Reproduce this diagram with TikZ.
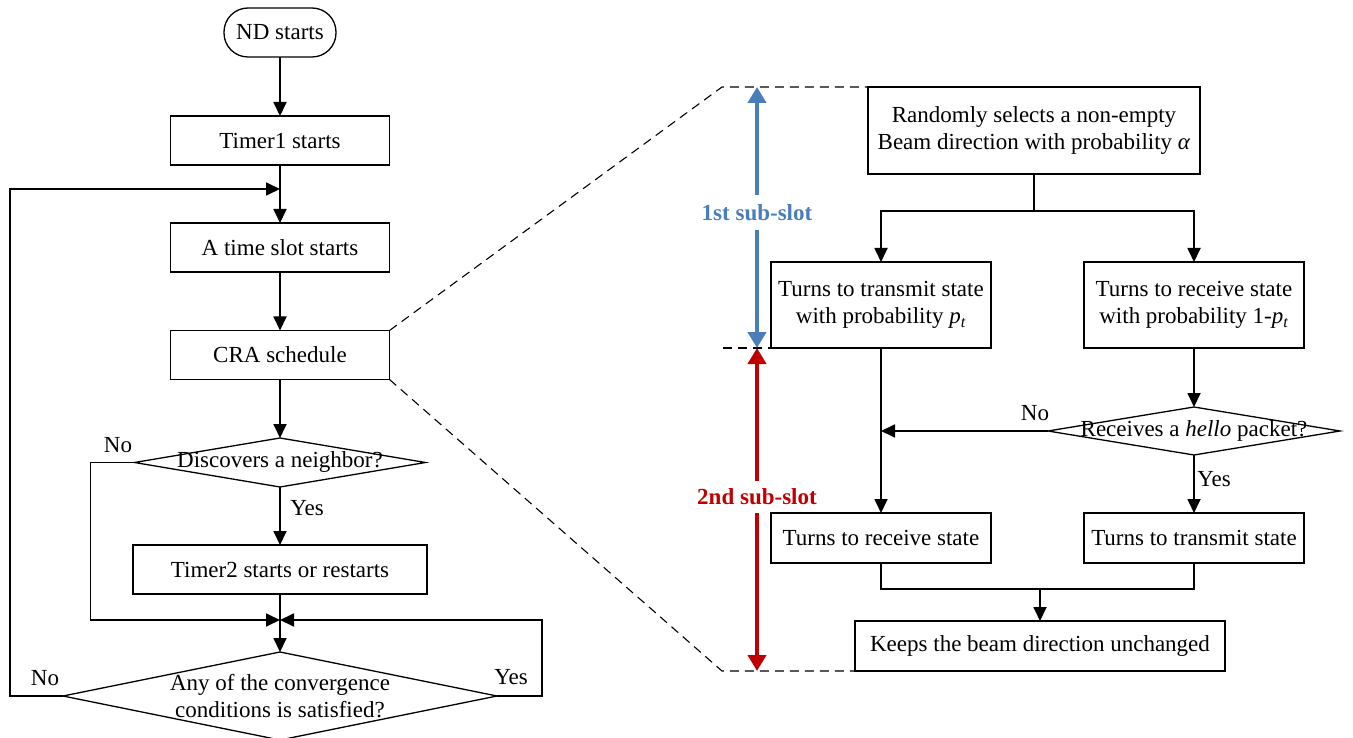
\documentclass[tikz,border=0pt]{standalone}
\usepackage{fontspec}
\setmainfont{Liberation Serif}
\usepackage{tikz}
\usetikzlibrary{shapes.geometric, arrows.meta, positioning}
\definecolor{slotblue}{RGB}{74,126,187}
\definecolor{slotred}{RGB}{192,0,0}
\tikzstyle{process} = [rectangle, draw, line width=1.3pt, inner sep=2pt, outer sep=0pt, minimum width=219pt, minimum height=49pt, align=center]
\tikzstyle{startstop} = [rectangle, rounded corners=24pt, draw, line width=1.3pt, outer sep=0pt, minimum width=112pt, minimum height=49pt]
\tikzstyle{decision} = [diamond, draw, line width=1.3pt, inner sep=0pt, outer sep=0pt]
\tikzstyle{arrow} = [line width=1.8pt, -{Triangle[length=14pt,width=13pt]}]
\tikzstyle{line} = [line width=1.8pt, -]
\tikzstyle{zoomline} = [line width=1.1pt, dash pattern=on 9pt off 6pt]
\tikzstyle{slotarrow} = [line width=4pt, -{Triangle[length=16pt,width=18pt]}]
\tikzstyle{slotlabel} = [font=\fontsize{23pt}{27pt}\selectfont\bfseries, inner xsep=0pt]

\begin{document}
\begin{tikzpicture}[x=1pt, y=-1pt, font=\fontsize{23pt}{27.5pt}\selectfont]
     \useasboundingbox (0,0) rectangle (1353,738);
     \node (nd) at (280, 32.5) [startstop] {ND starts};
     \node (timer1) at (280, 140.5) [process] {Timer1 starts};
     \node (slot) at (280, 247.5) [process] {A time slot starts};
     \node (cra) at (280, 355) [process] {CRA schedule};
     \node (disc) at (280, 462.5) [decision, minimum width=291pt, minimum height=49pt, label=center:{Discovers a neighbor?}] {};
     \node (timer2) at (280, 569.5) [process, minimum width=294pt] {Timer2 starts or restarts};
     \node (conv) at (280, 696) [decision, minimum width=434pt, minimum height=88pt,
           label={[align=center]center:Any of the convergence\\conditions is satisfied?}] {};
     \coordinate (loop) at (280, 189);
     \coordinate (join) at (280, 620);
     \draw[arrow] (nd) -- (timer1);
     \draw[arrow] (timer1) -- (slot);
     \draw[arrow] (slot) -- (cra);
     \draw[arrow] (cra) -- (disc);
     \draw[arrow] (disc) -- (timer2);
     \draw[arrow] (timer2) -- (conv);
     \draw[arrow] (disc.west) -- ++(-44, 0) |- (join);
     \draw[arrow] (conv.east) -- ++(45, 0) |- (join);
     \draw[arrow] (conv.west) -- ++(-53, 0) |- (loop);
     \node (no1) at (118, 445) {No};
     \node (yes1) at (307, 508) {Yes};
     \node (no2) at (45, 678) {No};
     \node (yes2) at (511, 677) {Yes};
     % zoomed sub-slots
     \node (select) at (1034, 130.5) [process, minimum width=332pt, minimum height=87pt]
           {Randomly selects a non-empty\\Beam direction with probability \textit{α}};
     \node (txp) at (881, 305) [process, minimum width=220pt, minimum height=86pt]
           {Turns to transmit state\\with probability \textit{p}\textsubscript{\textit{t}}};
     \node (rxp) at (1194, 305) [process, minimum width=220pt, minimum height=86pt]
           {Turns to receive state\\with probability 1-\textit{p}\textsubscript{\textit{t}}};
     \node (hello) at (1194, 431) [decision, minimum width=292pt, minimum height=48pt, label=center:{Receives a \textit{hello} packet?}] {};
     \node (rxs) at (881, 538) [process, minimum width=220pt, minimum height=50pt] {Turns to receive state};
     \node (txs) at (1194, 538) [process, minimum width=220pt, minimum height=50pt] {Turns to transmit state};
     \node (keep) at (1040, 646) [process, minimum width=370pt, minimum height=50pt] {Keeps the beam direction unchanged};
     \draw[line] (select.south) -- ++(0, 37) coordinate (fork);
     \draw[arrow] (fork) -| (txp.north);
     \draw[arrow] (fork) -| (rxp.north);
     \draw[arrow] (rxp) -- (hello);
     \draw[arrow] (txp) -- (rxs);
     \draw[arrow] (hello.west) -- (hello.west -| txp.south);
     \draw[arrow] (hello) -- (txs);
     \draw[line] (rxs.south) -- ++(0, 26) coordinate (merge) -| (txs.south);
     \draw[arrow] (merge -| keep.north) -- (keep.north);
     \node (no3) at (1035, 413) {No};
     \node (yes3) at (1214, 479) {Yes};
     \coordinate (slottop) at (757, 87);
     \coordinate (slotmid) at (757, 348);
     \coordinate (slotbot) at (757, 671);
     \draw[zoomline] (cra.north east) -- (722, 87) -- (select.north west);
     \draw[zoomline] (cra.south east) -- (722, 671) -- (keep.south west);
     \draw[zoomline] (723, 348) -- (txp.south west);
     \node (sub1) at (757, 212.5) [slotlabel, text=slotblue, inner ysep=9pt] {1st sub-slot};
     \node (sub2) at (757, 497) [slotlabel, text=slotred, inner ysep=8pt] {2nd sub-slot};
     \draw[slotarrow, slotblue] (sub1) -- (slottop);
     \draw[slotarrow, slotblue] (sub1) -- (slotmid);
     \draw[slotarrow, slotred] (sub2) -- (slotmid);
     \draw[slotarrow, slotred] (sub2) -- (slotbot);
   \end{tikzpicture}
\end{document}
